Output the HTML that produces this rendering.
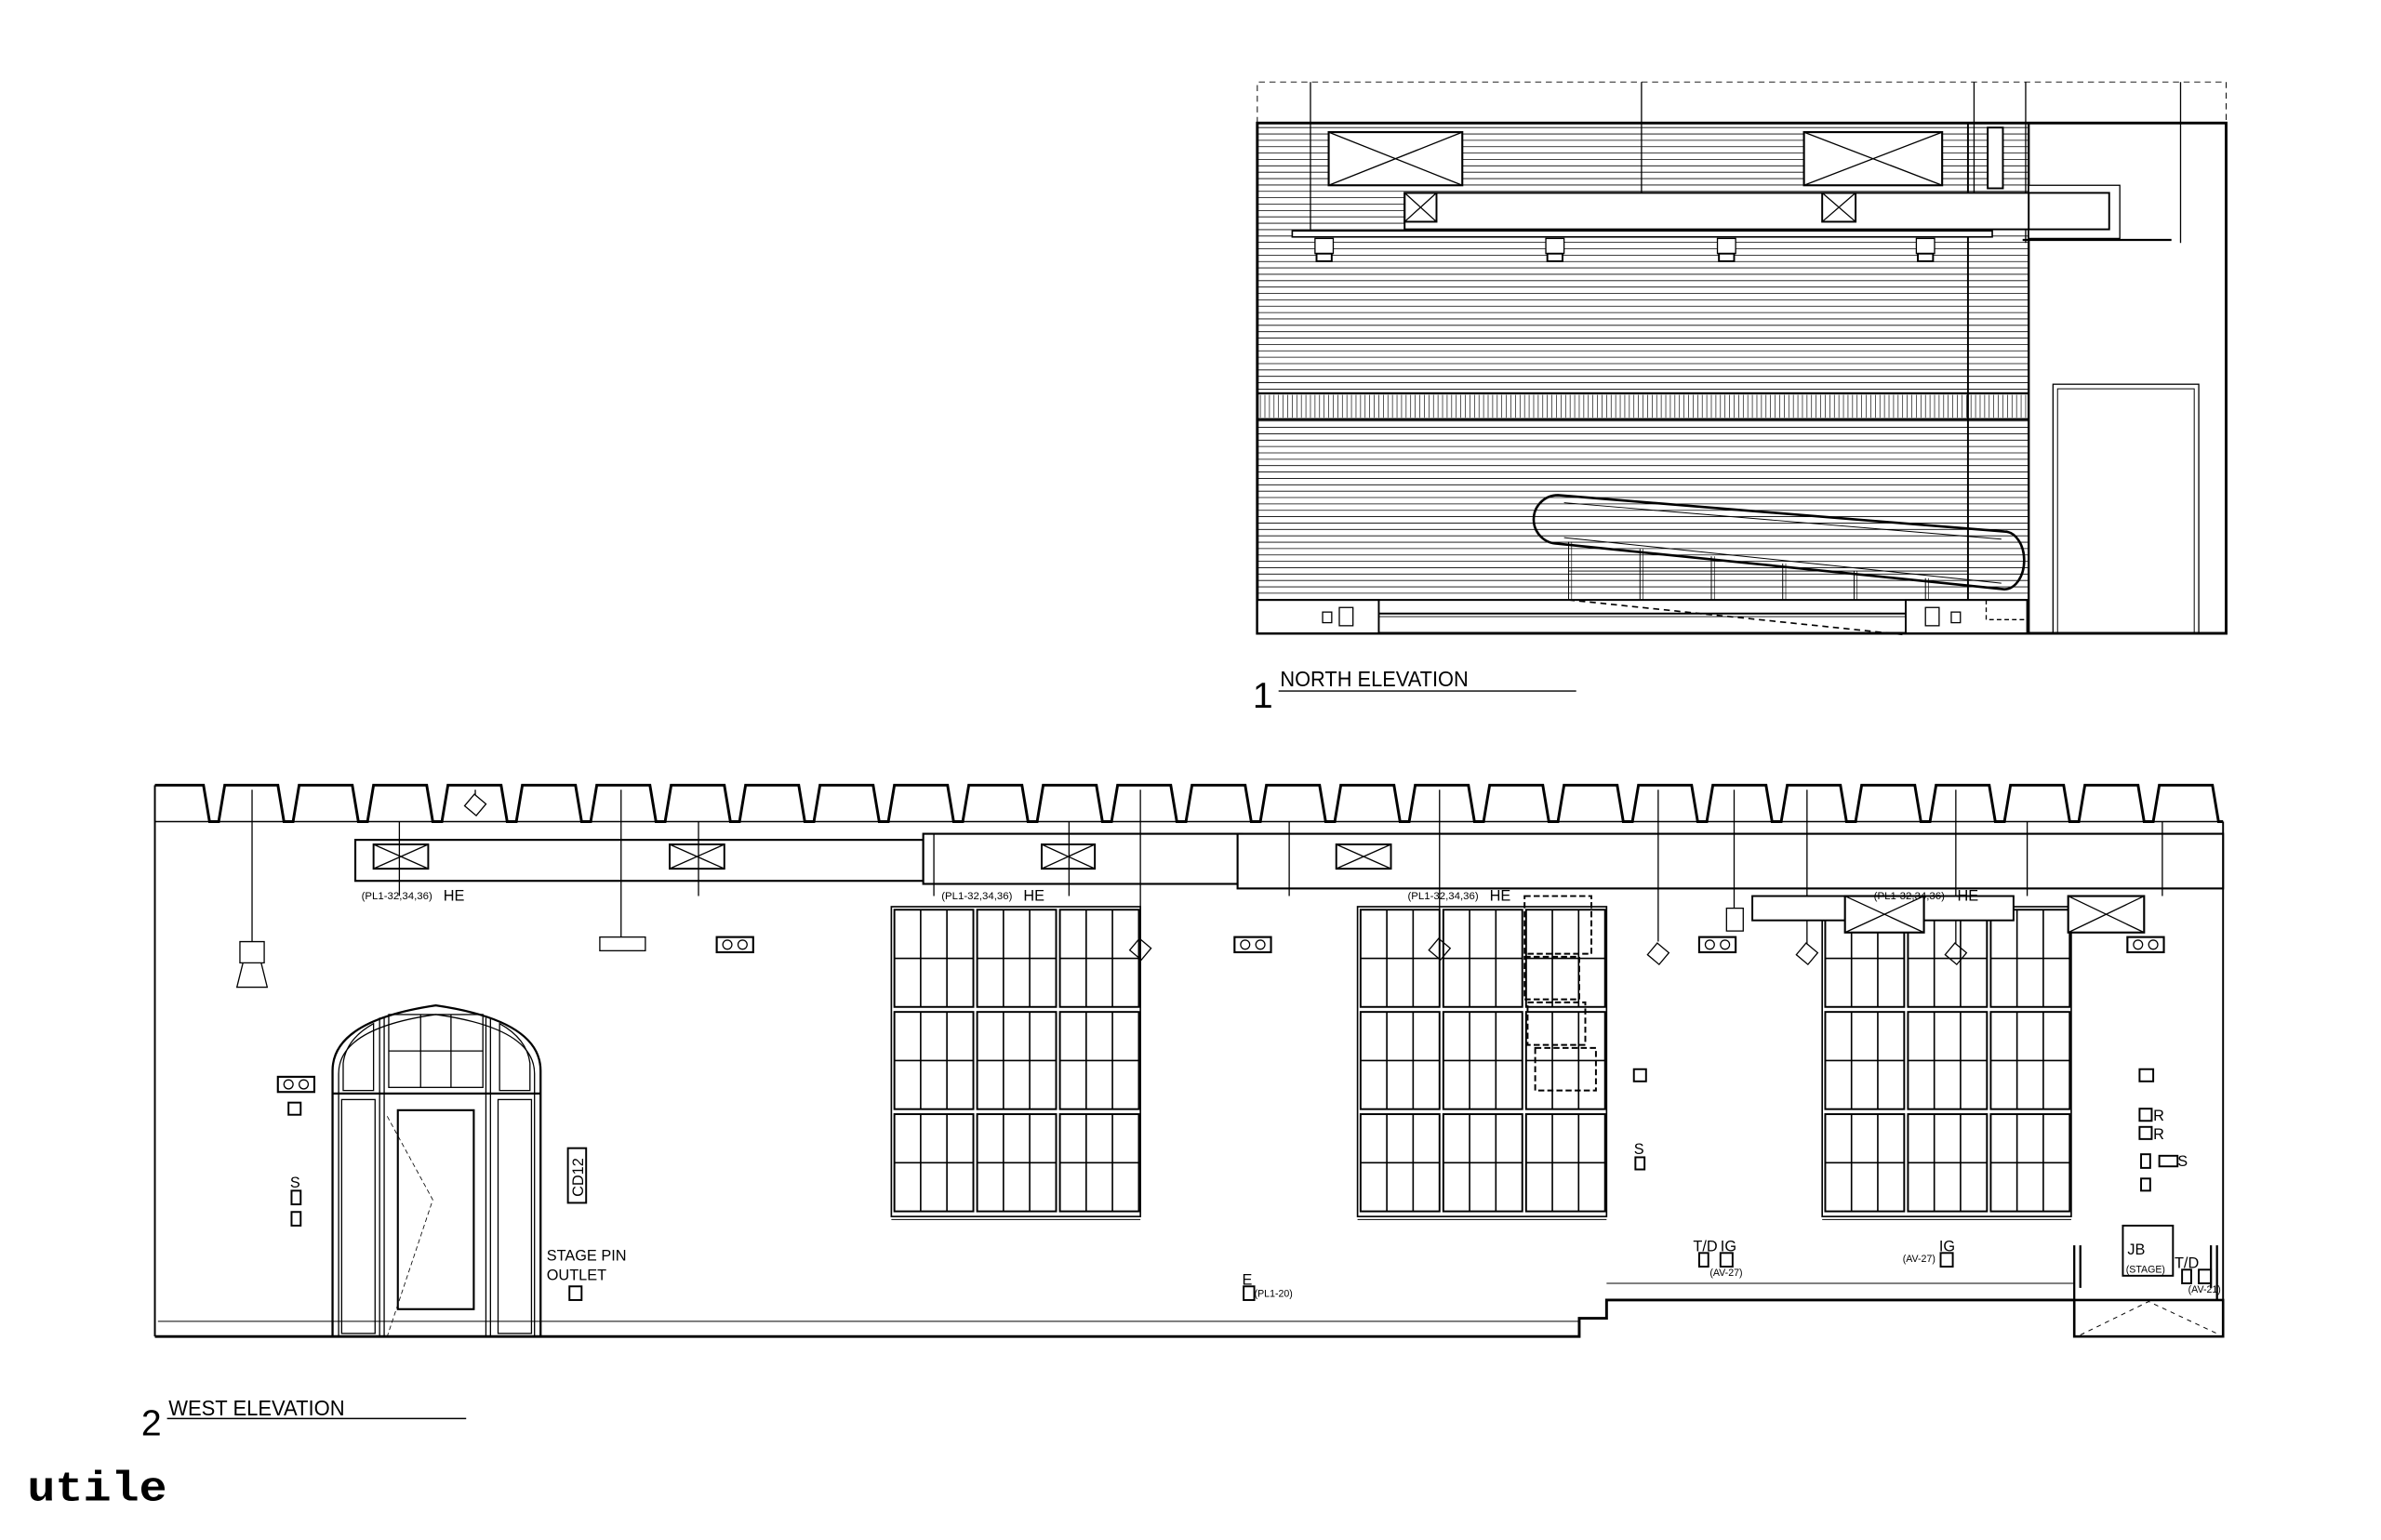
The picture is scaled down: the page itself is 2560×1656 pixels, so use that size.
<!DOCTYPE html>
<html><head><meta charset="utf-8"><style>
html,body{margin:0;padding:0;background:#fff;}
svg{display:block;}
text{font-family:"Liberation Sans",sans-serif;fill:#000;}
</style></head><body>
<svg id="s" width="2560" height="1656" viewBox="0 0 1568 1014" preserveAspectRatio="none" xmlns="http://www.w3.org/2000/svg">
<g fill="none" stroke="#000" stroke-width="0.8" id="g">
<path d="M828,81 V54 H1466 V81" stroke-dasharray="4,3" stroke-width="0.6"/>
<g id="nlines"></g>
<rect x="828" y="259" width="508" height="17" fill="#fff" stroke-width="1.4"/>
<g id="nhatch"></g>
<rect x="1336" y="81" width="130" height="336" fill="#fff" stroke-width="1"/>
<line x1="1296" y1="81" x2="1296" y2="417" stroke-width="1.2"/>
<line x1="1336" y1="81" x2="1336" y2="417" stroke-width="1.4"/>
<rect x="828" y="81" width="638" height="336" stroke-width="1.8"/>
<rect x="1352" y="253" width="96" height="164" stroke-width="0.8"/>
<rect x="1355" y="256" width="90" height="161" stroke-width="0.6"/>
<line x1="863" y1="54" x2="863" y2="152"/><line x1="1081" y1="54" x2="1081" y2="156"/>
<line x1="1300" y1="54" x2="1300" y2="156"/><line x1="1334" y1="54" x2="1334" y2="160"/><line x1="1436" y1="54" x2="1436" y2="160"/>
<rect x="875" y="87" width="88" height="35" fill="#fff" stroke-width="1.3"/><path d="M875,87 L963,122 M963,87 L875,122"/>
<rect x="1188" y="87" width="91" height="35" fill="#fff" stroke-width="1.3"/><path d="M1188,87 L1279,122 M1279,87 L1188,122"/>
<rect x="1309" y="84" width="10" height="40" fill="#fff" stroke-width="1.2"/>
<rect x="925" y="127" width="464" height="24" fill="#fff" stroke-width="1.2"/>
<rect x="1336" y="122" width="60" height="35" fill="#fff"/>
<rect x="1336" y="127" width="53" height="24" fill="#fff" stroke-width="1.2"/>
<rect x="925" y="127" width="21" height="19" stroke-width="1.2"/><path d="M925,127 L946,146 M946,127 L925,146"/>
<rect x="1200" y="127" width="22" height="19" stroke-width="1.2"/><path d="M1200,127 L1222,146 M1222,127 L1200,146"/>
<rect x="851" y="152" width="461" height="4" fill="#fff" stroke-width="1"/>
<line x1="1332" y1="158" x2="1430" y2="158" stroke-width="1.4"/>
<g id="nfix"></g>
<path d="M1026,326 L1320,350 A13,19 0 0 1 1320,388 L1026,358 A16,16 0 0 1 1026,326 Z" stroke-width="1.6"/>
<path d="M1030,331 L1318,355 M1030,354 L1318,384" stroke-width="0.6"/>
<g id="esc"></g>
<rect x="828" y="395" width="80" height="22" fill="#fff" stroke-width="1.2"/>
<rect x="1255" y="395" width="80" height="22" fill="#fff" stroke-width="1.2"/>
<line x1="908" y1="404" x2="1255" y2="404" stroke-width="1.2"/><line x1="908" y1="406" x2="1255" y2="406" stroke-width="0.5"/>
<line x1="828" y1="395" x2="1336" y2="395" stroke-width="1.2"/>
<path d="M1033,395 L1255,418" stroke-dasharray="4,3" stroke-width="1"/>
<rect x="871" y="403" width="6" height="7"/><rect x="882" y="400" width="9" height="12"/>
<rect x="1268" y="400" width="9" height="12"/><rect x="1285" y="403" width="6" height="7"/>
<path d="M1308,395 V408 H1336" stroke-dasharray="3,2"/>
<line x1="842" y1="455" x2="1038" y2="455" stroke-width="0.9"/>

<path id="teeth" stroke-width="1.8"/>
<line x1="102" y1="541" x2="1464" y2="541" stroke-width="0.9"/>
<path d="M102,517 V870 M102,880 V870 M1464,541 V880" stroke-width="1.2"/>
<path d="M102,880 H1040 V868 H1058 L1058,856 H1366" stroke-width="1.8"/>
<path d="M104,870 H1040 M1058,845 H1366" stroke-width="0.6"/>
<rect x="1366" y="856" width="98" height="24" stroke-width="1.6"/>
<path d="M1370,879 L1415,857 L1462,879" stroke-dasharray="3,3" stroke-width="0.6"/>
<rect x="234" y="553" width="374" height="27" fill="#fff" stroke-width="1.3"/>
<rect x="608" y="549" width="210" height="33" fill="#fff" stroke-width="1.3"/>
<rect x="815" y="549" width="649" height="36" fill="#fff" stroke-width="1.3"/>
<g id="dx"></g>
<path d="M166,520 V620 M409,520 V617 M1092,520 V620 M1142,520 V598 M1190,520 V622 M1288,520 V622 M948,520 V612 M751,520 V612 M263,541 V590 M460,541 V590 M704,541 V590 M849,541 V590 M1424,541 V590 M1335,541 V590 M615,549 V590 M313,520 V536"/>
<path d="M158,620 h16 v14 h-16 z M160,634 h12 l4,16 h-20 z" fill="#fff"/>
<rect x="395" y="617" width="30" height="9" fill="#fff"/>
<rect x="1137" y="598" width="11" height="15" fill="#fff"/>
<g id="spk"></g>
<g id="win"></g>
<g stroke-dasharray="4,2" stroke-width="1.2">
<rect x="1004" y="590" width="44" height="38"/><rect x="1004" y="630" width="36" height="28"/>
<rect x="1006" y="660" width="38" height="28"/><rect x="1011" y="690" width="40" height="28"/>
</g>
<rect x="1154" y="590" width="172" height="16" fill="#fff" stroke-width="1.2"/>
<rect x="1215" y="590" width="52" height="24" fill="#fff" stroke-width="1.3"/><path d="M1215,590 L1267,614 M1267,590 L1215,614"/>
<rect x="1362" y="590" width="50" height="24" fill="#fff" stroke-width="1.3"/><path d="M1362,590 L1412,614 M1412,590 L1362,614"/>
<path d="M219,880 V705 Q219,672 287,662 Q356,672 356,705 V880" stroke-width="1.4"/>
<path d="M223,880 V707 Q223,677 287,668 Q352,677 352,707 V880"/>
<line x1="219" y1="720" x2="356" y2="720" stroke-width="1.4"/>
<path d="M250,880 V670 M253,880 V670 M320,880 V670 M323,880 V670"/>
<rect x="225" y="724" width="22" height="154"/><rect x="328" y="724" width="22" height="154"/>
<rect x="262" y="731" width="50" height="131" stroke-width="1.3"/>
<path d="M255,735 L285,790 L255,880" stroke-dasharray="3,2" stroke-width="0.5"/>
<rect x="256" y="668" width="62" height="48"/><path d="M256,692 H318 M277,668 V716 M297,668 V716"/>
<path d="M226,718 V700 Q228,684 246,674 V718 Z M349,718 V700 Q347,684 329,674 V718 Z"/>
<g id="dev" stroke-width="1.2"></g>
<rect x="374" y="756" width="12" height="36" stroke-width="1.2"/>
<rect x="1398" y="807" width="33" height="33" stroke-width="1.2"/>
<path d="M1366,820 V856 M1370,820 V848 M1460,820 V856 M1456,820 V848" stroke-width="1.4"/>
<line x1="110" y1="934" x2="307" y2="934" stroke-width="0.9"/>
</g>
<g font-size="14">
<text x="825" y="466" font-size="24">1</text>
<text x="843" y="452" font-size="14" textLength="124" lengthAdjust="spacingAndGlyphs">NORTH ELEVATION</text>
<text x="93" y="945" font-size="24">2</text>
<text x="111" y="932" font-size="14" textLength="116" lengthAdjust="spacingAndGlyphs">WEST ELEVATION</text>
<text x="18" y="988" textLength="92" lengthAdjust="spacingAndGlyphs" style="font-family:'Liberation Mono',monospace;font-size:28px;font-weight:bold">utile</text>
<g font-size="7"><text x="238" y="592">(PL1-32,34,36)</text><text x="620" y="592">(PL1-32,34,36)</text><text x="927" y="592">(PL1-32,34,36)</text><text x="1234" y="592">(PL1-32,34,36)</text></g>
<g font-size="10"><text x="292" y="593">HE</text><text x="674" y="593">HE</text><text x="981" y="593">HE</text><text x="1289" y="593">HE</text></g>
<text x="360" y="830" font-size="10">STAGE PIN</text><text x="360" y="843" font-size="10">OUTLET</text>
<text x="384" y="788" font-size="10" transform="rotate(-90 384 788)">CD12</text>
<g font-size="10"><text x="191" y="782">S</text><text x="1076" y="760">S</text><text x="818" y="846">E</text>
<text x="1115" y="824">T/D</text><text x="1133" y="824">IG</text><text x="1277" y="824">IG</text>
<text x="1418" y="738">R</text><text x="1418" y="750">R</text><text x="1434" y="768">S</text>
<text x="1432" y="835">T/D</text><text x="1401" y="826">JB</text></g>
<g font-size="6.5"><text x="826" y="854">(PL1-20)</text><text x="1126" y="840">(AV-27)</text><text x="1253" y="831">(AV-27)</text><text x="1441" y="851">(AV-21)</text><text x="1400" y="838">(STAGE)</text></g>
</g>
</svg>
<script>
var NS="http://www.w3.org/2000/svg";
function el(p,t,a){var e=document.createElementNS(NS,t);for(var k in a)e.setAttribute(k,a[k]);p.appendChild(e);return e;}
var $=function(i){return document.getElementById(i)};
var nl=$("nlines");
for(var y=84;y<395;y+=4.2){if(y>258&&y<277)continue;el(nl,"line",{x1:828,y1:y,x2:1336,y2:y,"stroke-width":0.5});}
for(var x=830;x<1336;x+=3){el($("nhatch"),"line",{x1:x,y1:260,x2:x,y2:275,"stroke-width":0.4});}
[872,1024,1137,1268].forEach(function(x){var g=$("nfix");el(g,"rect",{x:x-6,y:157,width:12,height:10,fill:"#fff"});el(g,"rect",{x:x-5,y:167,width:10,height:5,fill:"#fff","stroke-width":1.2});});
var es=$("esc");
[1033,1080,1127,1174,1221,1268].forEach(function(x){var yt=356+(x-1026)*30/294;el(es,"line",{x1:x,y1:yt,x2:x,y2:395,"stroke-width":0.6});el(es,"line",{x1:x+2,y1:yt,x2:x+2,y2:395,"stroke-width":0.4});});
el(es,"line",{x1:1033,y1:376,x2:1296,y2:376,"stroke-width":0.5});
var t="M102,517 H134 L138,541";
for(var i=0;i<27;i++){var s=138+i*49;if(s+45>1464)break;t+=" H"+(s+6)+" L"+(s+10)+",517 H"+(s+45)+" L"+(s+49)+",541";}
t+=" H1464";
$("teeth").setAttribute("d",t);
[[246,556,36,16],[441,556,36,16],[686,556,35,16],[880,556,36,16]].forEach(function(b){var g=$("dx");el(g,"rect",{x:b[0],y:b[1],width:b[2],height:b[3],fill:"#fff","stroke-width":1.2});el(g,"path",{d:"M"+b[0]+","+b[1]+" l"+b[2]+","+b[3]+" M"+(b[0]+b[2])+","+b[1]+" l-"+b[2]+","+b[3]});});
var sp=$("spk");
[[472,617],[813,617],[1119,617],[1401,617],[183,709]].forEach(function(c){el(sp,"rect",{x:c[0],y:c[1],width:24,height:10,"stroke-width":1.3});el(sp,"circle",{cx:c[0]+7,cy:c[1]+5,r:3});el(sp,"circle",{cx:c[0]+17,cy:c[1]+5,r:3});});
[[751,625],[948,625],[1092,628],[1190,628],[1288,628],[313,530]].forEach(function(c){el(sp,"rect",{x:c[0]-5,y:c[1]-5,width:10,height:10,fill:"#fff",transform:"rotate(40 "+c[0]+" "+c[1]+")"});});
var w=$("win");
[587,894,1200].forEach(function(x0){el(w,"rect",{x:x0,y:597,width:164,height:204,"stroke-width":1});el(w,"line",{x1:x0,y1:803,x2:x0+164,y2:803,"stroke-width":0.6});
 for(var c=0;c<3;c++)for(var r=0;r<3;r++){var x=x0+2+c*54.5,y=599+r*67.3;el(w,"rect",{x:x,y:y,width:52,height:64,"stroke-width":1.2});
  for(var k=1;k<3;k++)el(w,"line",{x1:x+k*17.3,y1:y,x2:x+k*17.3,y2:y+64,"stroke-width":1});
  el(w,"line",{x1:x,y1:y+32,x2:x+52,y2:y+32,"stroke-width":1});}});
var dv=$("dev");
[[190,726,8,8],[192,784,6,9],[192,798,6,9],[1076,704,8,8],[1077,762,6,8],[375,847,8,9],[819,847,7,9],[1119,825,6,9],[1133,825,8,9],[1278,825,8,9],[1409,704,9,8],[1409,730,8,8],[1409,742,8,8],[1410,760,6,9],[1422,761,12,7],[1410,776,6,8],[1437,836,6,9],[1448,836,8,9]].forEach(function(b){el(dv,"rect",{x:b[0],y:b[1],width:b[2],height:b[3]});});
</script>
</body></html>
